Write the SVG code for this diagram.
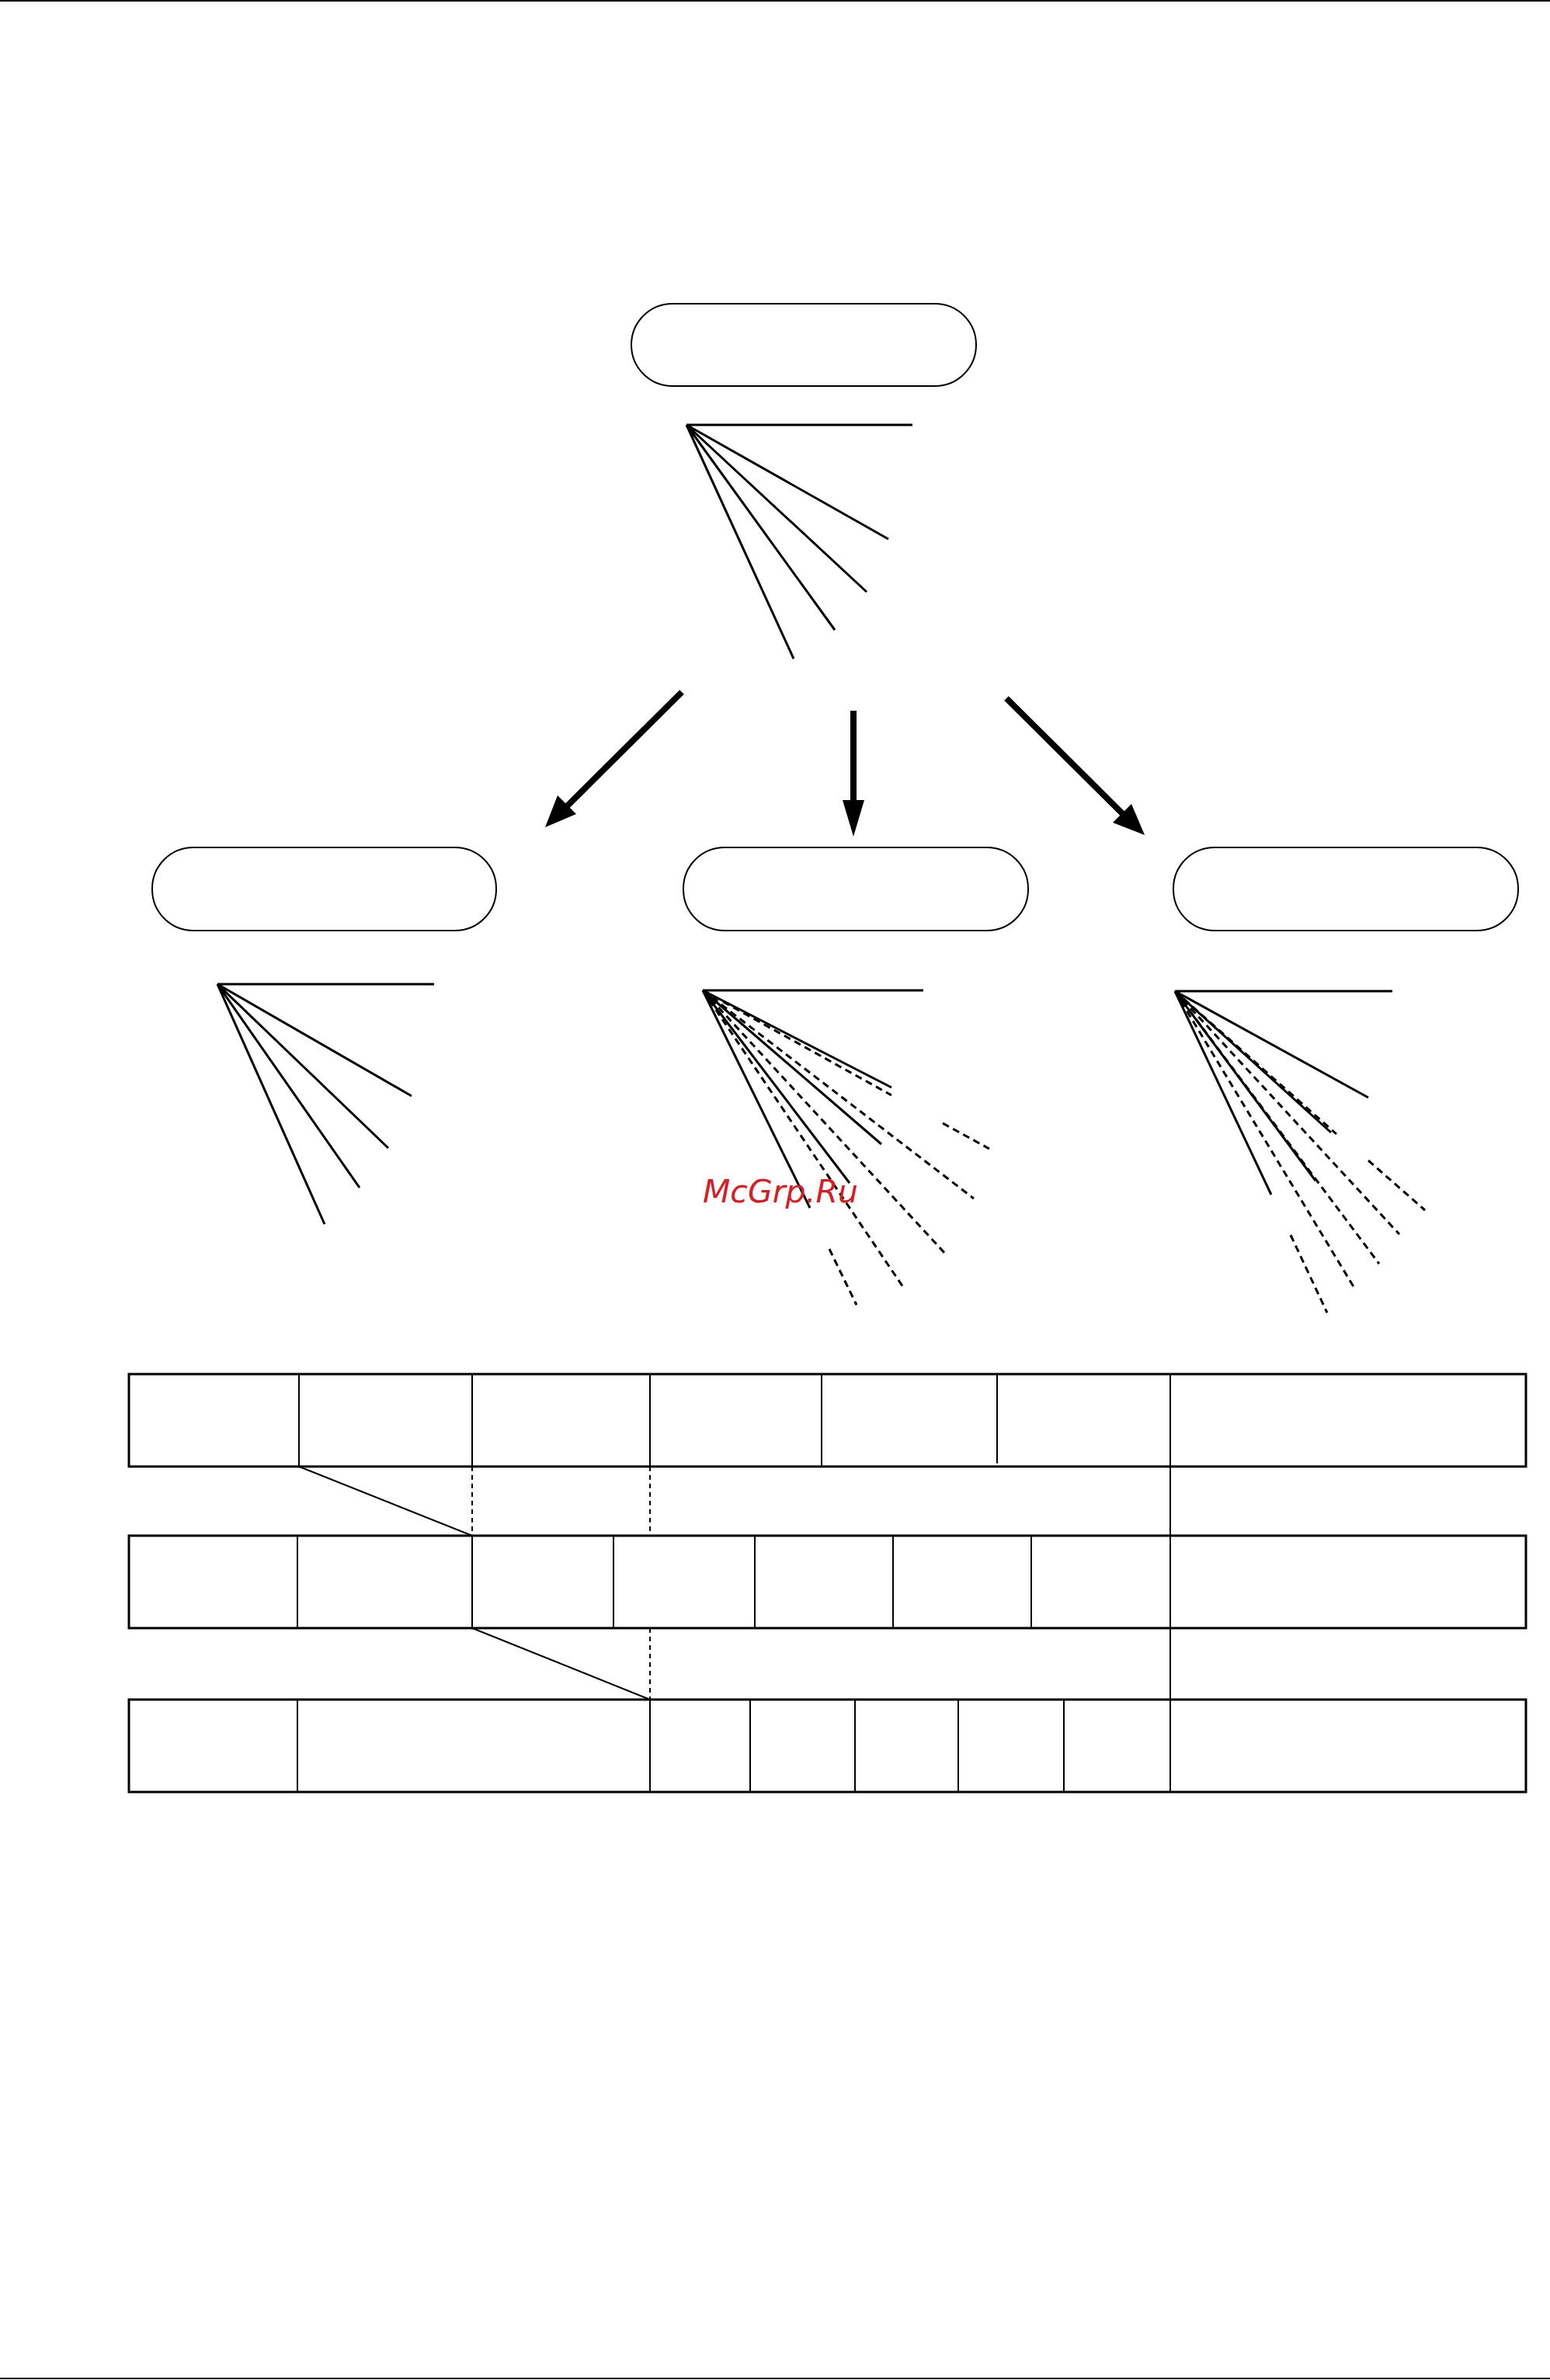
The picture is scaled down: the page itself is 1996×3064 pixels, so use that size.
<svg xmlns="http://www.w3.org/2000/svg" width="1996" height="3064" viewBox="0 0 1996 3064">
<style>
.n{fill:#fff;stroke:#000;stroke-width:2}
.s{stroke:#000;stroke-width:3;fill:none}
.d{stroke:#000;stroke-width:3;fill:none;stroke-dasharray:9 6}
.t{stroke:#000;stroke-width:2;fill:none}
.td{stroke:#000;stroke-width:2;fill:none;stroke-dasharray:6 5}
.a{stroke:#000;stroke-width:8;fill:none}
.b{fill:#fff;stroke:#000;stroke-width:3}
</style>
<rect width="1996" height="3064" fill="#fff"/>
<line x1="0" y1="1" x2="1996" y2="1" class="t"/>
<line x1="0" y1="3062" x2="1996" y2="3062" class="t"/>
<g id="top"><rect class="n" x="813" y="391" width="444" height="106" rx="53"/></g>
<g id="left"><rect class="n" x="196" y="1091" width="443" height="107" rx="53"/></g>
<g id="mid"><rect class="n" x="880" y="1091" width="444" height="107" rx="53"/></g>
<g id="right"><rect class="n" x="1511" y="1091" width="444" height="107" rx="53"/></g>
<g id="connectors">
<path class="s" d="M884 547H1175M884 547L1144 694M884 547L1116 762M884 547L1075 811M884 547L1022 848"/>
<line class="a" x1="878" y1="891" x2="730" y2="1038"/>
<polygon points="702,1065 718,1024 742,1048"/>
<line class="a" x1="1099" y1="915" x2="1099" y2="1035"/>
<polygon points="1099,1077 1085,1030 1113,1030"/>
<line class="a" x1="1296" y1="899" x2="1446" y2="1048"/>
<polygon points="1474,1075 1433,1059 1457,1035"/>
<path class="s" d="M280 1267H559M280 1267L530 1411M280 1267L500 1478M280 1267L463 1529M280 1267L418 1576"/>
<path class="s" d="M905 1275H1189M905 1275L1148 1400M905 1275L1135 1473M905 1275L1094 1523M905 1275L1043 1555"/>
<path class="d" d="M905 1275L1148 1410M905 1275L1254 1543M905 1275L1220 1617M905 1275L1163 1657M1214 1446L1274 1479M1068 1608L1103 1680"/>
<path class="s" d="M1513 1276H1793M1513 1276L1762 1413M1513 1276L1714 1458M1513 1276L1694 1520M1513 1276L1637 1538"/>
<path class="d" d="M1513 1276L1721 1460M1513 1276L1802 1589M1513 1276L1776 1627M1513 1276L1744 1658M1762 1494L1835 1558M1662 1590L1709 1690"/>
<path class="t" d="M385 1888L608 1977M608 2096L837 2188M1507 1888V2188"/>
<path class="td" d="M608 1888V1977M837 1888V1977M837 2096V2188"/>
</g>
<g id="table">
<rect class="b" x="166" y="1769" width="1799" height="119"/>
<path class="t" d="M385 1769V1888M608 1769V1888M837 1769V1888M1058 1769V1888M1284 1769V1884M1507 1769V1888"/>
<rect class="b" x="166" y="1977" width="1799" height="119"/>
<path class="t" d="M383 1977V2096M608 1977V2096M790 1977V2096M972 1977V2096M1150 1977V2096M1328 1977V2096M1507 1977V2096"/>
<rect class="b" x="166" y="2188" width="1799" height="119"/>
<path class="t" d="M383 2188V2307M837 2188V2307M966 2188V2307M1101 2188V2307M1234 2188V2307M1370 2188V2307M1507 2188V2307"/>
</g>
<text x="905" y="1548" font-family="DejaVu Sans, sans-serif" font-style="italic" font-size="41" fill="#cc2229">McGrp.Ru</text>
</svg>
